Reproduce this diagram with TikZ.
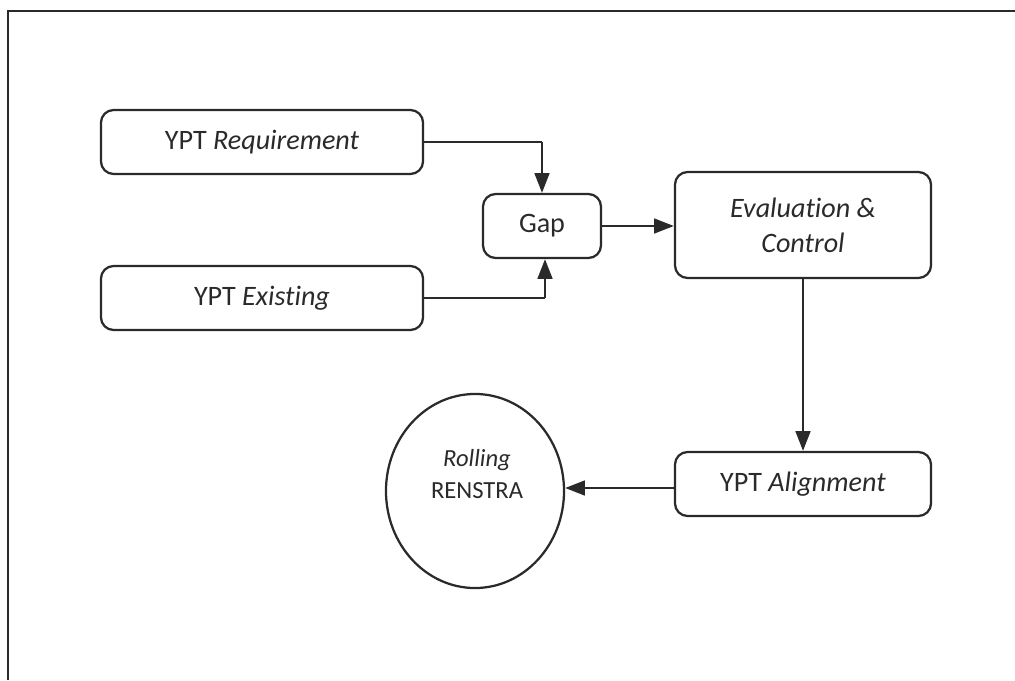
\documentclass[tikz,border=0pt]{standalone}
\usepackage{fontspec}
\setmainfont[Ligatures={NoCommon}]{Carlito}
\usetikzlibrary{arrows.meta,shapes.geometric}
\definecolor{ink}{HTML}{2A2A2A}
\tikzset{
  box/.style={draw=ink, line width=1.6pt, rounded corners=9pt, align=center,
    text=ink, font=\fontsize{20}{25}\selectfont, inner sep=0pt},
  link/.style={draw=ink, line width=1.5pt, -{Triangle[length=14pt,width=10.5pt]}},
  thin link/.style={draw=ink, line width=0.9pt},
}
\begin{document}
\begin{tikzpicture}[x=0.025cm, y=-0.025cm]
  \useasboundingbox (0,0) rectangle (1015,680);
  % page frame (top and left edges)
  \draw[ink, line width=1.8pt] (8,680) -- (8,11) -- (1015,11);

  \node[box, minimum width=8.05cm, minimum height=1.6cm] (req) at (262,142) {YPT \textit{Requirement}};
  \node[box, minimum width=8.05cm, minimum height=1.6cm] (ext) at (262,298) {YPT \textit{Existing}};
  \node[box, minimum width=2.95cm, minimum height=1.6cm] (gap) at (542,226) {Gap};
  \node[box, minimum width=6.4cm, minimum height=2.65cm] (eval) at (803,225) {\textit{Evaluation \&}\\\textit{Control}};
  \node[box, minimum width=6.4cm, minimum height=1.6cm] (align) at (803,484) {YPT \textit{Alignment}};
  \node[draw=ink, line width=1.6pt, ellipse, minimum width=4.45cm, minimum height=4.85cm,
        inner sep=0pt] (ren) at (475,491) {};
  \node[text=ink, align=center, font=\fontsize{17.5}{22.5}\selectfont] (rentext) at (477,474)
        {\textit{Rolling}\\RENSTRA};

  % inputs into the gap
  \coordinate (reqc) at (542,142);
  \coordinate (extc) at (545,298);
  \draw[thin link] (req.east) -- (reqc);
  \draw[link] (reqc) -- (gap.north -| reqc);
  \draw[thin link] (ext.east) -- (extc);
  \draw[link] (extc) -- (gap.south -| extc);

  % main flow
  \draw[link] (gap.east) -- (eval.west |- gap.east);
  \draw[link] (eval.south) -- (align.north);
  \draw[link] (align.west |- 0,488) -- (ren.east |- 0,488);
\end{tikzpicture}
\end{document}
